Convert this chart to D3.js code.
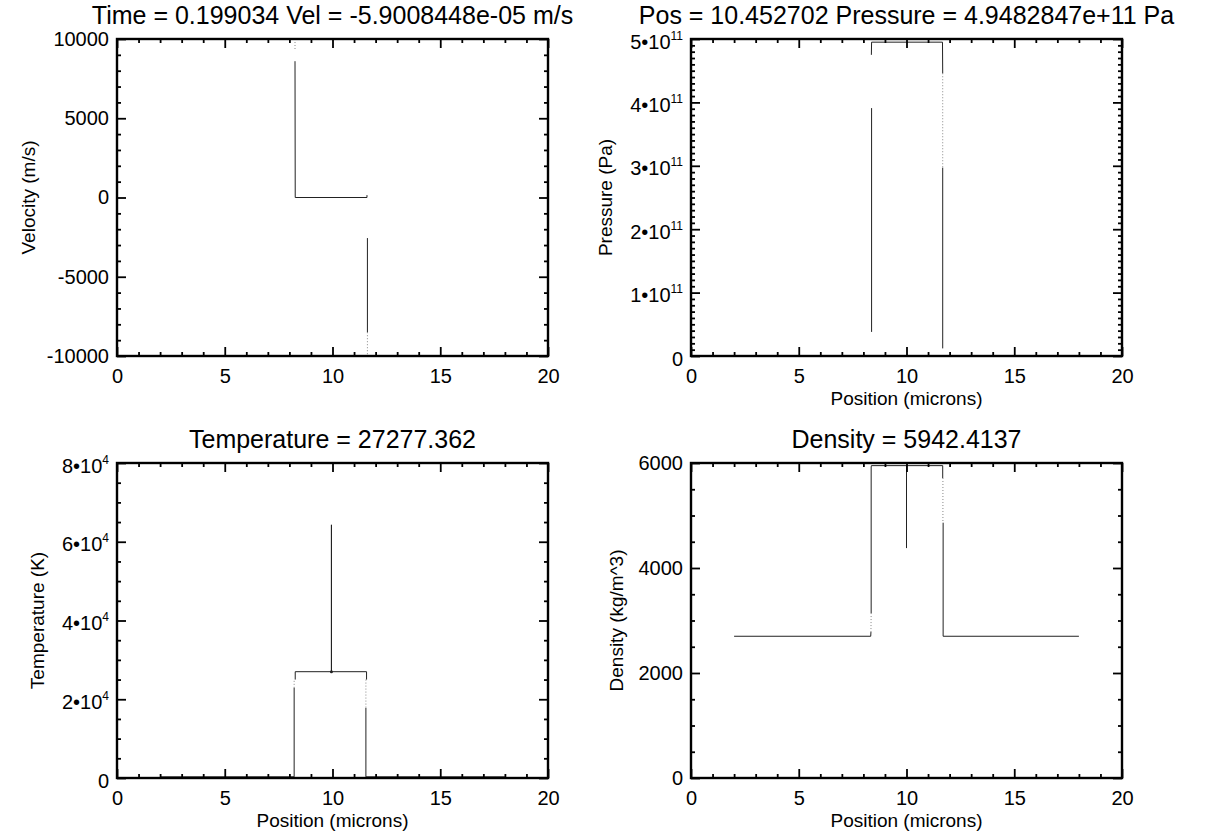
<!DOCTYPE html>
<html>
<head>
<meta charset="utf-8">
<script src="https://cdn.jsdelivr.net/npm/d3@7"></script>
<style>
  body { margin: 0; background: #fff; }
  svg { display: block; }
  text { font-family: "Liberation Sans", Arial, Helvetica, sans-serif; fill: #000; }
</style>
</head>
<body>
<div id="chart"></div>
<script>
// ---- data ----
const xTicks = [0, 5, 10, 15, 20];

const velTicks = [-10000, -5000, 0, 5000, 10000];
const presTicks = [0, 1e11, 2e11, 3e11, 4e11, 5e11];
const presTickLabels = [["0", ""], ["1•10", "11"], ["2•10", "11"], ["3•10", "11"], ["4•10", "11"], ["5•10", "11"]];
const tempTicks = [0, 2e4, 4e4, 6e4, 8e4];
const tempTickLabels = [["0", ""], ["2•10", "4"], ["4•10", "4"], ["6•10", "4"], ["8•10", "4"]];
const densTicks = [0, 2000, 4000, 6000];

// velocity (m/s) vs position (microns)
const velSolid = [[8.26, 8600], [8.27, 0], [11.60, 0], [11.60, 150], null, [11.62, -2560], [11.62, -8500]];
const velFaint = [[8.26, 10000], [8.26, 9300], null, [11.62, -8500], [11.62, -10000]];

// pressure (Pa)
const presSolid = [[8.38, 3.91e11], [8.38, 0.38e11], null,
  [8.37, 4.75e11], [8.38, 4.95e11], [11.67, 4.95e11], [11.68, 4.46e11], null,
  [11.68, 2.97e11], [11.68, 0.12e11]];
const presFaint = [[11.68, 4.46e11], [11.68, 2.97e11]];

// temperature (K)
const tempSolid = [[2, 300], [8.22, 300], [8.22, 22900], null,
  [8.27, 25000], [8.27, 27000], [9.95, 27000], [9.95, 64300], [9.95, 27000], [11.58, 27000], [11.58, 25000], null,
  [11.55, 17800], [11.55, 300], [18, 300]];
const tempFaint = [[8.22, 22900], [8.22, 25000], null, [11.55, 25000], [11.55, 17800]];
const tempDots = [[9.95, 27000]];

// density (kg/m^3)
const densSolid = [[2, 2700], [8.34, 2700], [8.35, 2780], null,
  [8.36, 3140], [8.36, 5924], [8.37, 5950], [10.0, 5950], [10.0, 4380], [10.0, 5950], [11.68, 5950], [11.68, 5714], null,
  [11.70, 4863], [11.70, 2700], [18, 2700]];
const densFaint = [[8.35, 2780], [8.36, 3140], null, [11.69, 5714], [11.69, 4863]];

// ---- layout ----
const W = 1210, H = 838;
const svg = d3.select("#chart").append("svg").attr("width", W).attr("height", H);
svg.append("rect").attr("width", W).attr("height", H).attr("fill", "#fff");

const panels = [
  { id: "vel", left: 117, right: 548, top: 39, bottom: 356, yDomain: [-10000, 10000],
    yTicks: velTicks, yLabels: null, yMinor: 1000, solid: velSolid, faint: velFaint, dots: [],
    title: "Time = 0.199034 Vel = -5.9008448e-05 m/s", yTitle: "Velocity (m/s)", yTitleX: 28, xTitle: false },
  { id: "pres", left: 691, right: 1122, top: 39, bottom: 356, yDomain: [0, 5e11],
    yTicks: presTicks, yLabels: presTickLabels, yMinor: 1e10, solid: presSolid, faint: presFaint, dots: [],
    title: "Pos = 10.452702 Pressure = 4.9482847e+11 Pa", yTitle: "Pressure (Pa)", yTitleX: 605, xTitle: true },
  { id: "temp", left: 117, right: 548, top: 463, bottom: 778, yDomain: [0, 8e4],
    yTicks: tempTicks, yLabels: tempTickLabels, yMinor: 5000, solid: tempSolid, faint: tempFaint, dots: tempDots,
    title: "Temperature = 27277.362", yTitle: "Temperature (K)", yTitleX: 37, xTitle: true },
  { id: "dens", left: 691, right: 1122, top: 463, bottom: 778, yDomain: [0, 6000],
    yTicks: densTicks, yLabels: null, yMinor: 500, solid: densSolid, faint: densFaint, dots: [],
    title: "Density = 5942.4137", yTitle: "Density (kg/m^3)", yTitleX: 616, xTitle: true }
];

function styleAxis(sel) {
  sel.select(".domain").remove();
  sel.attr("font-family", null).attr("font-size", null);
  sel.selectAll("line").attr("stroke", "#000").attr("stroke-width", 1.8);
  sel.selectAll("text").style("font-size", "20px");
}

panels.forEach(p => {
  const g = svg.append("g").attr("id", p.id);
  const x = d3.scaleLinear().domain([0, 20]).range([p.left, p.right]);
  const y = d3.scaleLinear().domain(p.yDomain).range([p.bottom, p.top]);

  const clipId = "clip-" + p.id;
  g.append("clipPath").attr("id", clipId)
    .append("rect")
    .attr("x", p.left).attr("y", p.top)
    .attr("width", p.right - p.left).attr("height", p.bottom - p.top);

  const line = d3.line()
    .defined(d => d != null)
    .x(d => x(d[0]))
    .y(d => y(d[1]));

  const plot = g.append("g").attr("clip-path", "url(#" + clipId + ")");
  plot.append("path")
    .attr("d", line(p.faint))
    .attr("fill", "none")
    .attr("stroke", "#888")
    .attr("stroke-width", 1)
    .attr("stroke-dasharray", "1,2");
  plot.append("path")
    .attr("d", line(p.solid))
    .attr("fill", "none")
    .attr("stroke", "#222")
    .attr("stroke-width", 1);
  plot.selectAll("circle")
    .data(p.dots)
    .enter()
    .append("circle")
    .attr("cx", d => x(d[0]))
    .attr("cy", d => y(d[1]))
    .attr("r", 1.5)
    .attr("fill", "#222");

  const xMinor = d3.range(0, 20.001, 1).filter(v => xTicks.indexOf(v) < 0);
  const [y0, y1] = p.yDomain;
  const yMinor = d3.range(y0, y1 + p.yMinor / 2, p.yMinor)
    .filter(v => !p.yTicks.some(t => Math.abs(t - v) < p.yMinor / 10));

  // bottom axis
  g.append("g").attr("transform", "translate(0," + p.bottom + ")")
    .call(d3.axisBottom(x).tickValues(xTicks).tickSize(-9).tickPadding(13).tickFormat(d => String(d)))
    .call(styleAxis);
  g.append("g").attr("transform", "translate(0," + p.bottom + ")")
    .call(d3.axisBottom(x).tickValues(xMinor).tickSize(-4).tickFormat(""))
    .call(styleAxis);
  // top axis
  g.append("g").attr("transform", "translate(0," + p.top + ")")
    .call(d3.axisTop(x).tickValues(xTicks).tickSize(-9).tickFormat(""))
    .call(styleAxis);
  g.append("g").attr("transform", "translate(0," + p.top + ")")
    .call(d3.axisTop(x).tickValues(xMinor).tickSize(-4).tickFormat(""))
    .call(styleAxis);

  // left axis
  const leftAx = g.append("g").attr("transform", "translate(" + p.left + ",0)")
    .call(d3.axisLeft(y).tickValues(p.yTicks).tickSize(-9).tickPadding(8)
      .tickFormat(p.yLabels ? "" : d => String(d)))
    .call(styleAxis);
  if (p.yLabels) {
    leftAx.selectAll(".tick text").each(function(d, i) {
      const lab = p.yLabels[i];
      const t = d3.select(this);
      t.text(null).attr("dy", "0.45em");
      t.append("tspan").text(lab[0]);
      if (lab[1]) {
        t.append("tspan").attr("dy", -9).style("font-size", "12px").text(lab[1]);
      }
    });
  }
  g.append("g").attr("transform", "translate(" + p.left + ",0)")
    .call(d3.axisLeft(y).tickValues(yMinor).tickSize(-4).tickFormat(""))
    .call(styleAxis);
  // right axis
  g.append("g").attr("transform", "translate(" + p.right + ",0)")
    .call(d3.axisRight(y).tickValues(p.yTicks).tickSize(-9).tickFormat(""))
    .call(styleAxis);
  g.append("g").attr("transform", "translate(" + p.right + ",0)")
    .call(d3.axisRight(y).tickValues(yMinor).tickSize(-4).tickFormat(""))
    .call(styleAxis);

  // frame
  g.append("rect")
    .attr("x", p.left).attr("y", p.top)
    .attr("width", p.right - p.left).attr("height", p.bottom - p.top)
    .attr("fill", "none").attr("stroke", "#000").attr("stroke-width", 2.4);

  // titles
  g.append("text")
    .attr("x", (p.left + p.right) / 2).attr("y", p.top - 15)
    .attr("text-anchor", "middle")
    .style("font-size", "25px")
    .text(p.title);

  g.append("text")
    .attr("transform", "translate(" + p.yTitleX + "," + ((p.top + p.bottom) / 2) + ") rotate(-90)")
    .attr("text-anchor", "middle")
    .attr("dy", "0.35em")
    .style("font-size", "19px")
    .text(p.yTitle);

  if (p.xTitle) {
    g.append("text")
      .attr("x", (p.left + p.right) / 2).attr("y", p.bottom + 49)
      .attr("text-anchor", "middle")
      .style("font-size", "19px")
      .text("Position (microns)");
  }
});
</script>
</body>
</html>
